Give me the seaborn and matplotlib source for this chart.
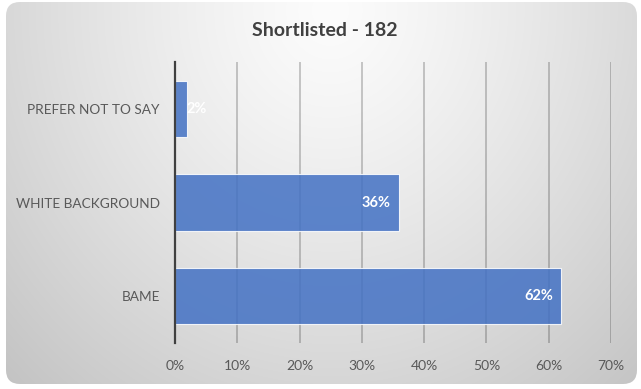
import numpy as np
import pandas as pd
import matplotlib
matplotlib.use("Agg")
import matplotlib.pyplot as plt
from matplotlib.patches import FancyBboxPatch
from matplotlib.ticker import PercentFormatter
import seaborn as sns

categories = ["PREFER NOT TO SAY", "WHITE BACKGROUND", "BAME"]
shares = [2, 36, 62]
share_labels = ["2%", "36%", "62%"]
x_ticks = [0, 10, 20, 30, 40, 50, 60, 70]
title = "Shortlisted - 182"

sns.set_theme(style="white")
plt.rcParams["font.family"] = ["Lato", "DejaVu Sans"]

W, H, DPI = 641, 389, 100
fig = plt.figure(figsize=(W / DPI, H / DPI), dpi=DPI)
fig.patch.set_facecolor("white")

# Rounded panel with a soft radial grey gradient
bg = fig.add_axes([0, 0, 1, 1], zorder=0)
bg.set_xlim(0, W)
bg.set_ylim(H, 0)
bg.axis("off")
yy, xx = np.mgrid[0:H, 0:W]
d = np.sqrt(((xx - 330) / 380.0) ** 2 + ((yy - 10) / 420.0) ** 2)
shade = np.clip(252 - 44 * d ** 1.25, 190, 252) / 255.0
img = np.dstack([shade, shade, shade])
im = bg.imshow(img, extent=(0, W, H, 0), interpolation="bilinear")
panel = FancyBboxPatch((6, 2), 631, 382, boxstyle="round,pad=0,rounding_size=14",
                       transform=bg.transData, facecolor="none", edgecolor="none")
bg.add_patch(panel)
im.set_clip_path(panel)

# Bar chart
ax = fig.add_axes([175 / W, 1 - 343 / H, (611 - 175) / W, (343 - 62) / H], zorder=1)
ax.patch.set_alpha(0)
df = pd.DataFrame({"category": categories, "share": shares})
sns.barplot(data=df, x="share", y="category", orient="h", order=categories,
            color="#4472C4", alpha=0.86, width=0.6, saturation=1,
            edgecolor=(1, 1, 1, 0.55), linewidth=0.8, ax=ax)

ax.set_xlim(0, 70)
ax.set_xticks(x_ticks)
ax.xaxis.set_major_formatter(PercentFormatter(decimals=0))
ax.set_xlabel("")
ax.set_ylabel("")
for s in ["top", "right", "bottom"]:
    ax.spines[s].set_visible(False)
ax.spines["left"].set_color("#404040")
ax.spines["left"].set_linewidth(1.6)
ax.spines["left"].set_zorder(5)
ax.set_axisbelow(True)
ax.xaxis.grid(True, color="black", alpha=0.22, linewidth=1.3)
ax.yaxis.grid(False)
ax.tick_params(axis="x", length=0, pad=12, labelsize=10, labelcolor="#595959")
ax.tick_params(axis="y", length=0, pad=11, labelsize=9.8, labelcolor="#595959")

for i, (v, lab) in enumerate(zip(shares, share_labels)):
    if v < 5:
        ax.annotate(lab, (v, i), xytext=(-1, 0), textcoords="offset points",
                    ha="left", va="center", color="white", fontsize=10.5, fontweight="bold")
    else:
        ax.annotate(lab, (v, i), xytext=(-6, 0), textcoords="offset points",
                    ha="right", va="center", color="white", fontsize=10.5, fontweight="bold")

fig.text(325 / W, 1 - 31 / H, title, ha="center", va="center",
         fontsize=14, fontweight="bold", color="#404040")

fig.savefig("out.png", dpi=DPI)
